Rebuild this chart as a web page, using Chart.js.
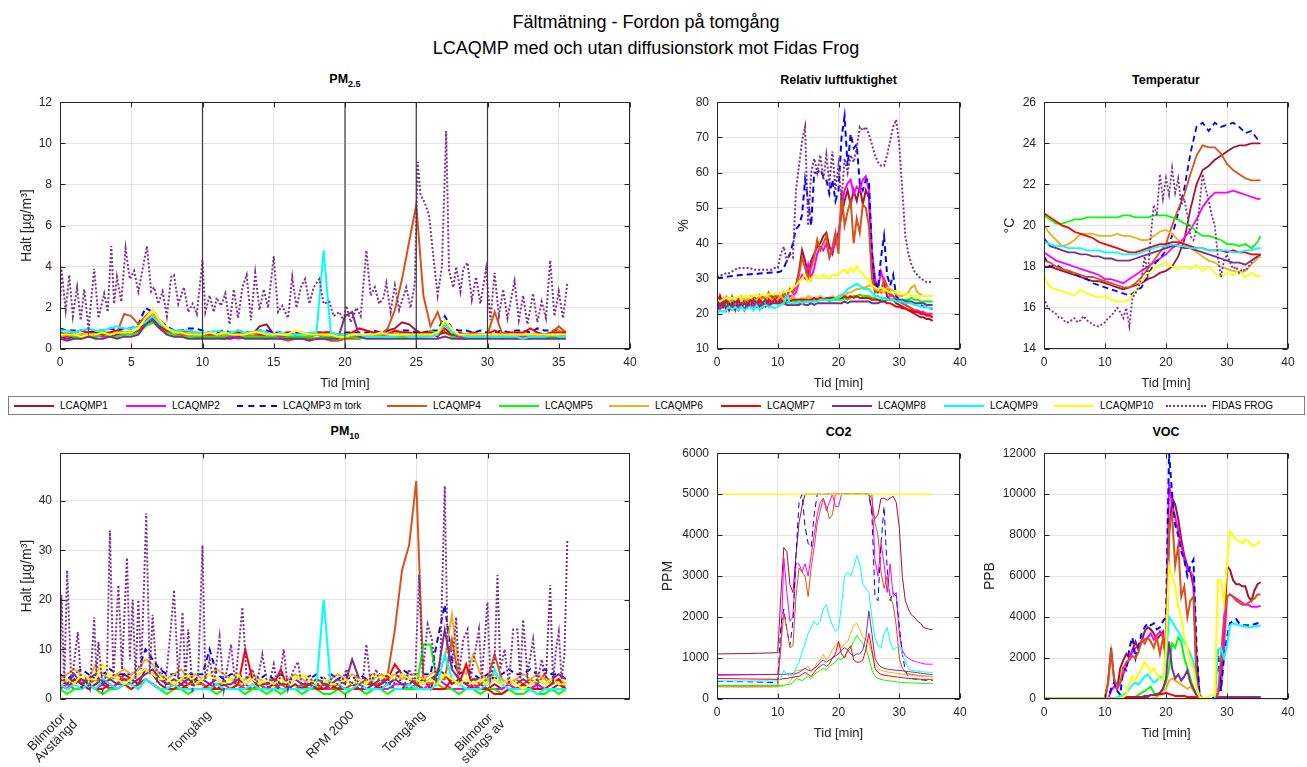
<!DOCTYPE html>
<html lang="sv">
<head>
<meta charset="UTF-8" />
<title>Fältmätning - Fordon på tomgång</title>
<script src="https://cdn.jsdelivr.net/npm/chart.js@4.4.1/dist/chart.umd.min.js"></script>
<style>
  body { margin: 0; background: #fff; font-family: "Liberation Sans", Arial, sans-serif; color: #000; }
  #page { position: relative; width: 1307px; height: 767px; overflow: hidden; }
  .main-title { position: absolute; left: 0; top: 9px; width: 1292px; text-align: center; font-size: 18px; line-height: 26px; color: #000; }
  .sub-title { position: absolute; font-weight: bold; font-size: 12.5px; line-height: 14px; text-align: center; color: #000; }
  .sub-title sub { font-size: 9px; vertical-align: -4px; line-height: 0; }
  canvas { position: absolute; }
  #legend { position: absolute; left: 8px; top: 396px; width: 1297px; height: 19px; border: 1px solid #7f7f7f; background: #fff;
            font-size: 10px; box-sizing: border-box; }
  #legend .item { position: absolute; top: 0; height: 17px; display: flex; align-items: center; white-space: nowrap; }
  #legend .sample { display: inline-block; width: 40px; height: 0; border-top-width: 2px; }
  #legend span { margin-left: 6px; color: #000; }
  .rot-label { position: absolute; font-size: 13px; line-height: 13px; text-align: center; white-space: nowrap; color: #262626;
               transform-origin: 100% 50%; transform: rotate(-45deg); }
</style>
</head>
<body>
<div id="page">
  <div class="main-title">Fältmätning - Fordon på tomgång<br />LCAQMP med och utan diffusionstork mot Fidas Frog</div>

  <div class="sub-title" style="left:60px; width:570px; top:72px;">PM<sub>2.5</sub></div>
  <div class="sub-title" style="left:717px; width:243px; top:73px;">Relativ luftfuktighet</div>
  <div class="sub-title" style="left:1044px; width:244px; top:73px;">Temperatur</div>
  <div class="sub-title" style="left:60px; width:570px; top:424px;">PM<sub>10</sub></div>
  <div class="sub-title" style="left:717px; width:243px; top:425px;">CO2</div>
  <div class="sub-title" style="left:1044px; width:244px; top:425px;">VOC</div>

  <canvas id="pm25"></canvas>
  <canvas id="rh"></canvas>
  <canvas id="temp"></canvas>
  <canvas id="pm10"></canvas>
  <canvas id="co2"></canvas>
  <canvas id="voc"></canvas>

  <div id="legend"></div>
</div>

<script>
// ---- time axes (minutes) ----
const tHalf = [0,0.5,1,1.5,2,2.5,3,3.5,4,4.5, 5,5.5,6,6.5,7,7.5,8,8.5,9,9.5,
  10,10.5,11,11.5,12,12.5,13,13.5,14,14.5, 15,15.5,16,16.5,17,17.5,18,18.5,19,19.5,
  20,20.5,21,21.5,22,22.5,23,23.5,24,24.5, 25,25.5,26,26.5,27,27.5,28,28.5,29,29.5,
  30,30.5,31,31.5,32,32.5,33,33.5,34,34.5,35,35.5];
const tMin = [0,1,2,3,4,5,6,7,8,9,10,11,12,13,14,15,16,17,18,19,20,21,22,23,24,25,26,27,28,29,30,31,32,33,34,35,35.5];
const tGas = [0,5,10, 10.5,11,11.5,12,12.5,13,13.5,14,14.5,15, 15.5,16,16.5,17,17.5,18,18.5,19,19.5,20,
  20.5,21,21.5,22,22.5,23,23.5,24,24.5,25, 25.5,26,26.5,27,27.5,28,28.5,29,29.5,30,
  30.5,31,31.5,32,32.5,33,33.5,34,34.5,35,35.5];
const tEnds = [0, 35.5];
const eventMinutes = [10, 20, 25, 30];

const sensorNames = ['LCAQMP1','LCAQMP2','LCAQMP3 m tork','LCAQMP4','LCAQMP5','LCAQMP6','LCAQMP7','LCAQMP8','LCAQMP9','LCAQMP10','FIDAS FROG'];

// ---- tick values ----
const ticksX5 = [0,5,10,15,20,25,30,35,40];
const ticksX10 = [0,10,20,30,40];
const pm25YTicks = [0,2,4,6,8,10,12];
const rhYTicks = [10,20,30,40,50,60,70,80];
const tempYTicks = [14,16,18,20,22,24,26];
const pm10YTicks = [0,10,20,30,40];
const pm10XTicks = [0,10,20,25,30];
const pm10XLabels = [['Bilmotor','Avstängd'],'Tomgång','RPM 2000','Tomgång',['Bilmotor','stängs av']];
const co2YTicks = [0,1000,2000,3000,4000,5000,6000];
const vocYTicks = [0,2000,4000,6000,8000,10000,12000];

// ---- PM2.5 [µg/m3], sampled on tHalf ----
const pm25Sensor1 = [0.6,0.5,0.6,0.7,0.6,0.6,0.7,0.6,0.7,0.7, 0.8,0.9,1.3,1.6,1.2,0.9,0.8,0.7,0.7,0.6,
  0.6,0.6,0.6,0.5,0.6,0.6,0.6,0.7,1.1,1.2, 0.7,0.6,0.6,0.5,0.6,0.6,0.7,0.6,0.5,0.6,
  0.6,0.7,0.6,0.6,0.7,0.6,0.9,1.0,1.3,1.2, 0.9,0.7,0.8,0.6,1.0,0.7,0.6,0.6,0.6,0.7,
  0.6,0.6,0.6,0.6,0.5,0.6,0.6,0.6,0.6,0.6,0.6,0.6];
const pm25Sensor2 = [0.7,0.6,0.7,0.6,0.7,0.7,0.6,0.7,0.8,0.7, 0.8,0.9,1.4,1.7,1.3,0.9,0.8,0.7,0.7,0.6,
  0.6,0.6,0.7,0.6,0.6,0.5,0.6,0.6,0.6,0.5, 0.6,0.6,0.5,0.6,0.6,0.5,0.5,0.6,0.6,0.5,
  0.6,0.6,0.6,0.6,0.7,0.6,0.7,0.8,0.7,0.7, 0.6,0.6,0.7,0.7,1.2,0.8,0.6,0.6,0.6,0.6,
  0.7,0.6,0.6,0.6,0.6,0.6,0.7,0.6,0.6,0.6,0.6,0.7];
const pm25Sensor3 = [1.0,0.9,0.9,0.9,0.8,0.9,0.9,1.0,0.9,1.0, 1.0,1.2,2.0,1.8,1.4,1.1,0.9,0.9,1.0,1.0,
  0.9,0.8,0.8,0.9,0.8,0.9,0.8,0.8,0.9,0.9, 0.8,0.8,0.8,0.8,0.8,0.7,0.8,0.8,0.8,0.7,
  0.8,0.8,0.8,0.8,0.9,0.8,0.9,0.8,0.9,0.9, 0.8,0.8,0.9,0.9,1.6,1.0,0.9,0.9,0.8,0.9,
  0.8,0.8,0.9,0.8,0.9,0.9,0.8,1.0,0.9,0.9,0.9,0.8];
const pm25Sensor4 = [0.7,0.7,0.6,0.7,0.7,0.7,0.8,0.8,0.8,1.7, 1.6,1.2,1.6,1.9,1.4,1.0,0.8,0.7,0.7,0.7,
  0.6,0.6,0.6,0.6,0.7,0.6,0.6,0.6,0.7,0.6, 0.6,0.5,0.4,0.5,0.5,0.5,0.5,0.5,0.4,0.4,
  0.5,0.5,0.5,0.6,0.6,0.7,1.0,1.9,3.4,5.2, 7.0,2.6,1.1,1.8,0.8,0.7,0.7,0.7,0.6,0.6,
  0.7,1.8,0.8,0.7,0.7,0.7,0.6,0.6,0.7,0.8,1.1,0.8];
const pm25Sensor5 = [0.6,0.7,0.6,0.5,0.6,0.6,0.7,0.6,0.6,0.7, 0.7,0.8,1.1,1.3,1.0,0.8,0.7,0.6,0.6,0.6,
  0.6,0.6,0.6,0.6,0.7,0.6,0.6,0.6,0.6,0.6, 0.6,0.5,0.6,0.6,0.6,0.6,0.5,0.6,0.6,0.5,
  0.6,0.6,0.5,0.6,0.6,0.6,0.6,0.6,0.6,0.6, 0.7,0.6,0.9,0.7,0.8,0.6,0.5,0.5,0.6,0.6,
  0.6,0.6,0.5,0.6,0.6,0.5,0.5,0.6,0.6,0.6,0.6,0.6];
const pm25Sensor6 = [0.7,0.8,0.7,0.7,0.7,0.8,0.8,0.7,0.8,0.8, 0.8,1.0,1.5,1.7,1.3,1.0,0.8,0.8,0.8,0.7,
  0.7,0.7,0.7,0.7,0.8,0.7,0.7,0.7,0.8,0.7, 0.7,0.7,0.7,0.7,0.8,0.7,0.7,0.7,0.7,0.6,
  0.7,0.7,0.7,0.7,0.7,0.7,0.8,0.8,0.8,0.7, 0.7,0.7,0.7,0.8,1.2,0.8,0.7,0.7,0.7,0.7,
  0.7,0.7,0.7,0.7,0.8,0.7,0.7,0.8,0.7,0.7,0.9,0.7];
const pm25Sensor7 = [0.8,0.7,0.8,0.9,0.8,0.8,0.7,0.8,0.9,0.8, 0.8,0.9,1.3,1.5,1.1,0.9,0.8,0.8,0.9,0.8,
  0.7,0.7,0.7,0.8,0.7,0.8,0.7,0.8,0.7,0.7, 0.7,0.7,0.8,0.7,0.8,0.7,0.8,0.8,0.8,0.7,
  0.7,0.8,1.0,0.9,0.8,0.8,0.7,0.9,0.8,0.8, 0.7,0.8,0.8,0.7,0.8,0.7,0.8,0.7,0.8,0.7,
  0.7,0.9,0.7,0.8,0.8,0.8,1.0,0.8,0.7,0.8,0.8,0.8];
const pm25Sensor8 = [0.5,0.4,0.5,0.5,0.6,0.5,0.5,0.6,0.5,0.6, 0.6,0.7,1.2,1.4,1.0,0.7,0.6,0.6,0.5,0.5,
  0.5,0.5,0.5,0.5,0.5,0.6,0.5,0.5,0.5,0.5, 0.5,0.5,0.5,0.5,0.5,0.4,0.5,0.5,0.5,0.5,
  1.6,1.8,0.6,0.5,0.5,0.5,0.5,0.5,0.5,0.5, 0.5,0.5,0.5,0.5,0.6,0.5,0.5,0.5,0.5,0.5,
  0.5,0.5,0.5,0.5,0.5,0.5,0.5,0.5,0.5,0.5,0.5,0.5];
const pm25Sensor9 = [0.9,0.9,0.8,0.9,1.0,0.9,0.9,1.0,1.1,1.0, 1.0,1.1,1.3,1.6,1.2,1.0,0.9,0.9,0.9,0.8,
  0.8,0.8,0.9,0.8,0.8,0.9,0.8,0.8,0.9,0.8, 0.7,0.8,0.7,0.7,0.7,0.8,0.8,4.8,0.8,0.7,
  0.7,0.7,0.7,0.6,0.6,0.6,0.6,0.6,0.7,0.6, 0.6,0.6,0.6,0.7,1.3,0.8,0.7,0.6,0.6,0.6,
  0.6,0.6,0.6,0.6,0.6,0.5,0.6,0.6,0.6,0.7,0.6,0.6];
const pm25Sensor10 = [0.7,0.7,0.7,0.6,0.7,0.7,0.8,0.7,0.8,0.8, 0.8,1.0,1.5,1.9,1.4,1.0,0.8,0.8,0.7,0.7,
  0.7,0.8,0.7,0.8,0.7,0.7,0.7,0.8,0.8,0.7, 0.7,0.7,0.7,0.9,0.8,0.7,0.7,0.7,0.7,0.6,
  0.6,0.7,0.7,0.7,0.7,0.8,0.7,0.7,0.7,0.7, 0.7,0.7,0.7,0.8,1.4,1.0,0.7,0.7,0.7,0.7,
  0.7,0.7,0.7,0.7,0.7,0.7,0.7,0.7,0.7,0.7,0.7,0.7];
const pm25FidasT = [0,0.1,0.4,0.65,0.9,1.2,1.45,1.7,2.0,2.4,2.7,3.1,3.35,3.6,3.8,4.0,4.3,4.6,4.9,5.2,5.5,5.8,6.1,6.4,6.6,6.9,
  7.2,7.5,7.8,8.0,8.3,8.7,9.0,9.3,9.6,10.0,10.2,10.5,10.8,11.0,11.3,11.6,11.9,12.2,12.5,12.8,13.1,13.4,13.7,14.0,14.3,14.6,
  15.0,15.3,15.6,16.0,16.3,16.6,16.9,17.2,17.5,17.8,18.2,18.5,18.9,19.2,19.6,19.9,20.1,20.4,20.8,21.1,21.5,21.8,22.1,22.4,
  22.7,22.9,23.2,23.5,23.8,24.3,24.6,24.9,25.1,25.3,25.6,25.9,26.2,26.5,26.8,27.1,27.3,27.6,27.8,28.1,28.3,28.6,28.9,29.2,
  29.5,29.9,30.2,30.5,30.8,31.1,31.4,31.7,31.9,32.2,32.5,32.8,33.2,33.5,33.8,34.1,34.4,34.7,35.0,35.3,35.6];
const pm25Fidas = [2.0,3.9,1.9,3.6,1.6,3.0,1.4,2.9,1.0,3.9,1.5,2.7,1.8,5.0,2.2,3.5,2.3,4.9,3.4,3.8,2.8,3.9,5.0,2.8,3.0,2.2,
  2.8,1.6,3.5,3.6,2.2,3.0,1.8,2.2,1.7,4.3,1.8,2.6,1.8,2.5,2.1,2.7,1.2,2.9,1.5,3.0,3.6,1.4,3.7,1.9,2.9,2.0,
  4.5,1.8,2.1,1.5,3.5,2.0,3.0,3.4,2.2,3.0,3.4,2.2,2.3,1.6,1.8,1.4,2.1,1.3,2.0,1.6,4.8,2.6,3.0,2.2,
  2.5,3.2,1.8,3.1,1.9,3.0,2.0,3.2,9.1,7.5,7.1,6.5,4.5,2.6,4.0,10.6,3.8,3.0,4.0,2.8,3.9,4.2,2.4,3.5,
  2.2,3.9,1.4,3.7,1.6,2.9,1.5,2.6,3.3,1.4,2.6,1.2,2.7,1.3,2.3,1.5,4.3,1.6,2.8,1.5,3.2];

// ---- Relativ luftfuktighet [%], sampled on tHalf ----
const rhSensor1 = [21,23,22,24,21,23,22,23,22,24, 23,22,24,23,25,22,24,23,25,24,
  25,24,26,25,27,26,28,32,38,35, 31,35,37,39,40,42,43,39,37,41,
  43,48,52,55,51,55,52,56,51,55, 53,35,27,26,27,29,25,24,24,23,
  22.5,22,21.5,21,20.5,20,19.5,19,19,18.5,18.5,18];
const rhSensor2 = [22,21,23,22,24,22,23,21,22,23, 22,23,22,24,23,22,24,23,23,24,
  24,23,25,24,25,25,26,29,31,30, 34,30,33,37,39,38,40,36,38,40,
  42,50,55,57,58,54,56,55,58,59, 55,38,30,27,32,29,27,25,25,24,
  23.5,23,22.5,22,21.5,21,21,20.5,20.5,20,20,20];
const rhSensor3 = [30,30.2,30.3,30.5,30.6,30.7,30.8,30.9,31,31, 31.1,31.2,31.3,31.3,31.4,31.5,31.5,31.6,31.7,31.8,
  31.8,32,33,35,37,40,44,45,48,58, 52,45,60,60,61,59,58,54,58,52,
  55,70,76,62,71,67,68,57,55,58, 58,37,29,27,36,42,31,28,31,25,
  24,24,23.5,23.5,23,23,22.5,22.5,22,22,21.5,21.5];
const rhSensor4 = [24,25,23,24,22,25,23,24,22,23, 24,23,25,24,23,25,24,26,24,25,
  25,24,26,25,27,26,28,31,36,33, 30,33,36,41,38,40,42,36,39,43,
  37,55,45,49,52,40,47,43,51,50, 45,30,26,27,26,30,28,26,25,24,
  23.5,23,22.5,22,21.5,21,20.5,20,20,19.5,19.5,19];
const rhSensor5 = [22,23,22,23,22,24,23,22,23,23, 22,23,24,23,22,23,23,24,23,23,
  23,23,23.5,23,23.5,23.5,23.5,23,23.5,23.5, 23.5,23.5,24,23.5,24,24,24,23.5,24,24,
  24,24,24.5,24,24.5,25,25,25.5,25,25, 25,24.5,24.5,24,24,24.5,24,24,24,24,
  24,24,24,24,24.5,24,24,23.5,23.5,23.5,23.5,23.5];
const rhSensor6 = [25,24,23,25,24,22,24,23,25,24, 24,25,23,24,25,23,24,25,24,24,
  24,25,24,25,24,25,24,24,24.5,24, 25,24.5,24,24.5,25,24.5,24,24.5,25,24.5,
  25,25.5,25,26,26,26.5,27,27,27.5,27.5, 28,28,27,26.5,26.5,26,27.5,27,26.5,25.5,
  25,25,25.5,26,27.5,28,26,25.5,25,25,25,25];
const rhSensor7 = [21,25,22,24,22,23,21,24,22,23, 22,24,23,22,24,23,22,24,23,24,
  23,24,23,24,23.5,24,24,24,24,24, 24,24,24.5,24,24.5,24,24.5,24.5,24.5,24.5,
  24.5,24.5,25,24.5,25,24.5,25,24.5,24.5,24.5, 24.5,24,24,24,23.5,23.5,23,23,22.5,22,
  22,21.5,21.5,21,21,20.5,20.5,20,20,19.5,19.5,19];
const rhSensor8 = [25,22,24,21,23,22,24,22,23,21, 23,22,24,23,22,23,24,22,23,23,
  23,23,23,22.5,22.5,22.5,22.5,22.5,23,22.5, 22.5,23,22.5,23,23,23,23,23,23,23,
  23,23,23.5,23,23.5,23.5,23.5,23.5,23.5,23.5, 23.5,23,23,23,23.5,23.5,24,24,24,24,
  24,24,23.5,23.5,23.5,23,23,23,23,22.5,22.5,22.5];
const rhSensor9 = [20,21,20.5,21,22,21,22,21,22,21, 21.5,22,21,22.5,21,22,22.5,22,22,21.5,
  22,22.5,23,25,23,23,23,23.5,23,23.5, 23.5,23.5,23.5,23.5,24,24,24,24,24,24.5,
  24.5,25,26,27,27.5,28,28.5,28,27,27, 27,26,25,25,24.5,24.5,24,24,24,23.5,
  23.5,23.5,23,23,23,22.5,22.5,22,22,22,21.5,21.5];
const rhSensor10 = [24,23.5,24,24.5,24,24.5,24,25,24.5,25, 25,24.5,25,25.5,25,25.5,25,25.5,25.5,25.5,
  25.5,26,26,26.5,26.5,27.5,28,29,30,31, 29,30,31,30.5,30,31,30.5,30,31,31,
  31,32,32.5,31.5,33,32,33.5,32,31.5,30, 29.5,28,27.5,27,27.5,27,26.5,26,26,26.5,
  26,25.5,25.5,25.5,25,25,25,25,25,25,25,25];
const rhFidas = [30.5,31,31,31.5,31.5,32,32.5,33,33,33, 33,33,32.5,32.5,32.5,32.5,32.5,32.5,32.5,33,
  33,37,39,35,37,36,55,62,69,73, 45,60,64,60,65,58,65,57,66,55,
  62,52,64,60,65,63,67,73,72,73, 71,68,65,63,62,62,65,69,73,75,
  68,55,42,37,34,32,31,30,29.5,29,29,29];

// ---- Temperatur [°C], sensors on tMin, FIDAS on tHalf ----
const tempSensor1 = [18.0,18.0,17.9,17.8,17.7,17.6,17.5,17.4,17.3,17.3, 17.2,17.1,17.0,16.9,17.0,17.1,17.2,17.4,17.5,17.7,
  17.8,18.0,18.5,19.3,20.8,22.0,22.7,22.9,23.2,23.4, 23.6,23.8,23.9,23.9,24.0,24.0,24.0];
const tempSensor2 = [18.7,18.5,18.3,18.2,18.1,18.0,17.9,17.8,17.7,17.6, 17.4,17.4,17.3,17.2,17.4,17.6,17.8,18.0,18.2,18.4,
  18.6,18.9,19.1,19.4,19.8,20.3,20.9,21.3,21.6,21.6, 21.6,21.7,21.6,21.5,21.4,21.3,21.3];
const tempSensor3 = [18.5,18.0,18.1,17.9,17.8,17.7,17.5,17.4,17.2,17.1, 17.0,16.9,16.8,16.7,16.6,16.8,17.0,17.6,18.1,18.4,
  18.8,19.5,20.6,21.8,23.5,24.8,25.0,24.6,25.0,24.8, 24.9,25.0,24.8,24.5,24.6,24.2,24.2];
const tempSensor4 = [18.3,18.2,18.0,17.9,17.8,17.7,17.6,17.5,17.5,17.4, 17.3,17.2,17.1,17.0,17.0,17.2,17.5,17.9,18.3,18.7,
  19.1,20.0,20.8,21.5,22.5,23.4,23.9,23.8,23.8,23.5, 23.0,22.7,22.5,22.3,22.2,22.2,22.2];
const tempSensor5 = [20.5,20.3,20.1,20.1,20.2,20.3,20.3,20.4,20.4,20.4, 20.4,20.4,20.4,20.5,20.5,20.4,20.4,20.4,20.5,20.5,
  20.5,20.4,20.3,20.1,20.0,19.7,19.5,19.5,19.4,19.3, 19.1,19.1,19.0,19.1,18.9,19.2,19.5];
const tempSensor6 = [20.0,19.6,19.3,19.0,19.1,19.3,19.6,19.6,19.6,19.5, 19.5,19.5,19.6,19.5,19.5,19.4,19.3,19.3,19.5,19.7,
  19.8,19.6,19.3,19.1,18.9,18.7,18.5,18.3,18.2,18.0, 17.9,17.8,17.7,17.8,18.1,18.4,18.5];
const tempSensor7 = [20.6,20.4,20.2,20.0,19.9,19.7,19.6,19.5,19.4,19.2, 19.1,19.0,18.9,18.8,18.7,18.7,18.8,18.9,19.0,19.1,
  19.1,19.2,19.2,19.1,19.0,18.9,18.9,18.8,18.8,18.8, 18.7,18.8,18.7,18.7,18.6,18.6,18.6];
const tempSensor8 = [19.4,19.0,18.9,18.8,18.7,18.7,18.6,18.6,18.5,18.5, 18.4,18.4,18.3,18.3,18.3,18.4,18.5,18.6,18.7,18.8,
  18.9,19.0,19.0,18.9,18.9,18.8,18.7,18.6,18.5,18.4, 18.3,18.2,18.2,18.1,18.3,18.5,18.6];
const tempSensor9 = [19.2,19.1,19.0,19.0,18.9,18.9,18.9,18.8,18.8,18.8, 18.7,18.7,18.7,18.6,18.6,18.6,18.7,18.8,18.9,19.0,
  19.0,19.1,19.0,19.0,18.9,18.9,18.9,18.8,18.8,18.8, 18.8,18.7,18.7,18.8,18.8,18.9,18.9];
const tempSensor10 = [17.5,17.0,16.9,16.8,16.7,16.6,16.9,16.7,16.6,16.5, 16.6,16.4,16.3,16.3,16.4,16.8,17.3,17.6,17.9,18.1,
  18.2,18.0,17.9,18.0,17.9,18.1,17.8,18.0,17.7,17.5, 17.7,17.6,17.8,17.5,17.7,17.5,17.6];
const tempFidas = [16.5,16.1,15.9,15.8,15.7,15.5,15.5,15.3,15.3,15.4, 15.5,15.3,15.4,15.6,15.4,15.3,15.2,15.1,15.1,15.2,
  15.3,15.5,15.6,15.8,16.0,15.8,15.5,16.0,15.1,16.5, 16.7,17.0,17.5,18.5,17.6,19.5,21.0,20.5,22.5,21.3,
  22.3,21.5,22.8,21.6,22.3,21.0,21.3,20.5,19.5,19.3, 19.8,21.0,22.5,21.8,21.2,20.5,20.0,18.5,17.5,18.3,
  18.6,18.2,17.9,18.0,17.7,17.9,17.8,18.0,18.2,18.4,18.5,18.6];

// ---- PM10 [µg/m3], sampled on tHalf ----
const pm10Sensor1 = [3,2,4,3,2,3,4,2,3,5, 4,3,6,5,3,2,3,2,3,4, 3,2,2,3,2,3,2,2,3,2, 3,2,2,3,2,2,3,2,2,3,
  2,3,2,2,3,2,3,4,5,4, 3,4,2,6,5,3,4,3,2,3, 2,3,2,3,2,3,2,3,2,2,3,2];
const pm10Sensor2 = [2,3,2,2,3,2,3,2,3,3, 3,2,4,3,2,2,2,3,2,2, 2,2,3,2,2,2,3,2,2,2, 2,2,2,2,2,3,2,2,2,2,
  2,2,3,2,2,2,2,3,3,2, 3,2,3,4,3,2,2,2,3,2, 2,2,2,3,2,2,2,3,2,2,2,2];
const pm10Sensor3 = [5,4,5,6,5,4,5,6,5,5, 5,6,10,8,6,5,5,4,5,5, 5,10,5,4,5,5,4,5,4,5, 4,5,4,4,5,4,5,4,5,4,
  5,4,5,4,5,5,4,5,6,5, 5,5,5,12,19,8,5,6,5,4, 5,4,5,6,5,5,6,5,6,5,5,4];
const pm10Sensor4 = [3,4,3,4,3,4,3,4,5,4, 4,5,6,5,4,3,3,4,3,3, 3,2,3,3,2,3,2,2,3,2, 2,3,2,2,3,2,2,3,2,2,
  2,3,3,4,3,3,5,14,26,31, 44,4,3,4,4,12,4,3,4,3, 4,9,4,3,4,3,4,3,5,3,4,3];
const pm10Sensor5 = [2,1,2,2,3,2,1,2,2,3, 2,3,4,3,2,1,2,2,1,2, 2,2,1,2,2,2,1,2,2,1, 2,1,2,2,1,2,2,1,1,2,
  1,2,2,1,2,2,1,2,2,2, 2,11,11,3,2,2,1,2,2,1, 2,2,1,2,1,1,2,1,1,2,1,2];
const pm10Sensor6 = [4,5,6,5,4,7,5,4,5,6, 5,6,8,7,5,4,5,6,4,5, 4,5,6,5,4,3,4,5,4,3, 4,3,4,5,4,3,4,3,4,5,
  4,5,4,3,4,5,4,5,4,5, 5,4,5,6,8,17,6,5,9,5, 4,5,4,3,4,5,4,5,4,3,4,3];
const pm10Sensor7 = [3,2,3,4,3,2,2,3,2,3, 2,3,4,3,2,2,2,3,2,2, 2,3,2,2,2,3,10,4,2,2, 3,6,2,2,2,3,2,2,3,2,
  2,2,2,2,2,3,4,7,5,4, 3,2,2,2,2,4,3,7,2,2, 2,1,1,2,2,3,2,2,2,3,4,2];
const pm10Sensor8 = [4,3,5,3,4,5,3,4,3,4, 3,4,5,6,4,3,4,3,4,3, 4,3,4,3,3,4,3,4,3,3, 4,3,3,4,3,3,4,3,3,4,
  3,8,4,3,3,4,3,4,3,3, 4,3,4,5,14,6,4,3,4,4, 3,4,3,4,3,4,3,4,3,4,5,4];
const pm10Sensor9 = [3,2,3,2,3,2,4,3,2,3, 3,2,4,3,2,2,3,2,2,2, 2,2,3,2,2,2,2,3,2,2, 2,2,2,2,2,2,3,20,3,3,
  2,2,3,2,2,2,3,2,2,3, 2,2,2,3,9,4,3,2,2,2, 3,6,3,2,2,2,2,1,2,2,2,2];
const pm10Sensor10 = [3,4,3,5,4,4,7,5,4,3, 4,5,6,5,4,4,3,4,5,3, 4,5,4,3,4,5,3,4,3,4, 3,4,3,4,5,4,3,4,3,3,
  4,3,4,3,5,4,5,4,5,4, 4,3,4,3,5,4,3,4,3,4, 3,4,3,4,3,2,3,4,3,4,3,3];
const pm10FidasT = [0,0.1,0.3,0.5,0.8,1.25,1.5,1.8,2.1,2.4,2.55,2.7,3.0,3.3,3.5,3.75,4.1,4.35,4.7,4.9,5.1,5.3,5.5,5.7,5.9,
  6.05,6.3,6.5,6.8,7.1,7.4,7.8,8.0,8.3,8.6,8.8,9.0,9.3,9.7,10.0,10.2,10.5,10.8,11.2,11.5,12.0,12.3,12.8,13.1,13.5,
  13.8,14.2,14.6,15.0,15.3,15.7,16.0,16.4,16.7,17.0,17.5,17.9,18.3,18.7,19.2,19.6,20.1,20.4,20.8,21.2,21.5,21.8,22.2,22.5,22.9,
  23.3,23.7,24.1,24.5,24.9,25.2,25.45,25.8,26.1,26.4,26.7,27.0,27.2,27.5,27.8,28.0,28.3,28.6,28.8,29.1,29.4,29.6,30.0,30.2,30.5,
  30.7,30.9,31.2,31.5,31.8,32.1,32.3,32.5,32.8,33.2,33.5,33.8,34.1,34.4,34.6,34.8,35.0,35.2,35.4,35.6];
const pm10Fidas = [4,21,3,26,3,13.5,2,4,2,16.5,5,11.5,2,6,34,4,23,6,28.5,8,20,4,20,6,23.5,
  37.5,5,17,4,6,3,15,22,4,17.5,3,14,2,5,31,4,8,3,12.5,2,11,3,18.5,4,6,
  3,9,2,7,2,10,2,6,7.5,2,5,2,4,2,5,2,6,3,4,2,11,3,6,2,5,
  2,5,2,6,3,25,5,15,12,4,8,43,10,6,16.5,5,12,14,4,9,14,4,19.5,4,8,
  25,6,10,3,14,14,4,16,5,12,3,8,4,23,3,10,13.5,4,9,32];

// ---- CO2 [PPM], sampled on tGas ----
const co2Sensor1 = [1100,1110,1130, 2500,3700,3600,2800,2600,3500,4300,4700,5000,5000,
  5000,5000,5000,5000,5000,5000,5000,5000,5000,5000, 5000,5000,5000,5000,5000,5000,5000,5000,5000,5000,
  4600,4400,4500,4900,4900,4850,4900,4950,4800,4200, 3000,2400,2200,2050,2000,1900,1850,1750,1720,1700,1700];
const co2Sensor2 = [600,600,600, 1200,3450,2600,1900,2000,3300,3300,3100,3300,3000,
  3500,4000,4500,4800,4900,4600,4800,5000,4700,4700, 5000,5000,5000,5000,5000,5000,5000,5000,5000,5000,
  5000,3400,3000,3800,3300,2600,3300,2500,2600,1600, 1200,1050,1000,950,920,900,880,860,850,850,850];
const co2Sensor3 = [430,420,400, 1800,2200,1700,1300,1900,3500,4800,5000,4200,3800,
  3700,4500,5000,5000,5000,5000,5000,5000,5000,5000, 5000,5000,5000,5000,5000,5000,5000,5000,5000,5000,
  4500,2500,2400,3800,4700,3200,2400,2600,2500,1800, 1100,700,550,500,490,480,470,460,455,450,450];
const co2Sensor4 = [300,300,300, 1300,2100,1700,1250,1300,2500,3200,3100,3000,2500,
  3200,3700,4300,4600,4900,4700,4400,4500,5000,5000, 5000,5000,5000,5000,5000,5000,5000,5000,5000,5000,
  4900,4300,4000,3100,2700,3000,2500,2300,1800,1000, 750,650,620,600,590,580,570,560,555,550,550];
const co2Sensor5 = [330,330,330, 330,340,350,360,400,500,480,450,500,550,
  500,600,650,700,750,700,800,850,900,1000, 950,1050,1150,1250,1400,1550,1450,1350,1250,1000,
  700,550,500,480,460,450,440,430,420,410, 400,400,395,390,390,385,385,380,380,380,380];
const co2Sensor6 = [300,290,300, 300,320,350,420,550,700,700,720,750,800,
  650,750,900,950,1100,950,1050,1200,1300,1400, 1250,1350,1400,1600,1800,1850,1700,1500,1450,1400,
  1100,850,750,700,680,660,650,640,630,620, 600,600,590,580,570,560,560,550,550,550,550];
const co2Sensor7 = [500,490,480, 480,500,500,520,520,550,550,600,650,600,
  550,650,750,800,850,800,850,1000,1100,1400, 1100,1000,1200,1300,950,900,900,950,1200,1600,
  1200,750,650,600,580,570,560,550,540,530, 520,510,500,500,490,490,480,480,480,480,480];
const co2Sensor8 = [580,590,600, 600,600,610,610,620,620,650,700,750,700,
  700,750,800,900,950,900,950,1000,1050,1100, 1200,1250,1200,1100,1050,1100,1100,1200,1500,2150,
  1600,1000,850,780,750,730,720,710,700,700, 690,680,670,660,650,640,630,620,610,600,600];
const co2Sensor9 = [440,440,440, 500,700,600,550,600,750,900,1150,1350,1600,
  1750,1900,1800,1900,2200,2300,2000,1800,1650,1700, 2300,3000,3100,3000,3200,3500,3300,2800,2700,2600,
  2000,1500,1300,1250,1600,1750,1400,1200,1250,1300, 1100,900,750,700,690,680,670,660,655,650,650];
const co2Sensor10 = [5000, 5000];

// ---- VOC [PPB], sampled on tGas ----
const vocSensor1 = [30,30,30, 800,2500,900,500,1500,1900,2200,2000,2400,2800,
  2400,2800,3300,3500,3400,3200,2900,3100,3300,1800, 8000,9800,9500,8800,7800,7000,6500,6200,5500,2000,
  200,0,0,0,0,50,300,1000,3000,6500, 6300,5800,5600,5600,5500,5500,5000,4800,5300,5600,5700];
const vocSensor2 = [30,30,30, 0,400,600,500,800,1200,1600,2000,2300,2500,
  2600,2800,2900,3000,3200,2900,3100,3300,3000,2800, 10500,9500,8900,8200,7500,6800,6300,6200,6000,1000,
  100,0,0,0,0,0,300,500,2500,5000, 5100,5000,4900,4800,4700,4600,4600,4500,4500,4500,4550];
const vocSensor3 = [30,30,30, 0,500,800,400,200,1500,1400,2500,3000,2000,
  2600,3200,3500,3700,3600,3700,3400,3500,3800,4000, 12000,10000,8500,8000,7200,6800,6000,6500,6800,2500,
  200,0,0,0,0,100,2400,400,2000,3000, 3700,3800,3900,3700,3600,3600,3600,3600,3650,3700,3750];
const vocSensor4 = [30,30,30, 800,2300,1000,600,800,1500,1800,1900,2100,2000,
  2300,2900,2700,3000,2800,2500,3000,2200,3000,2000, 8500,9000,6500,7500,5000,5500,4000,4800,5000,800,
  100,0,0,0,0,0,200,2000,4000,5000, 5100,5000,4800,4700,4600,4600,4700,4800,4900,5100,5100];
const vocSensor5 = [30,30,30, 30,30,30,30,30,30,30,30,50,100,
  200,300,400,500,600,300,200,300,500,800, 1500,2700,2500,3000,2800,2000,1500,1000,500,200,
  100,0,0,0,0,0,50,80,80,80, 80,80,80,80,80,80,80,80,80,80,80];
const vocSensor6 = [30,30,30, 30,30,30,30,30,30,30,30,30,30,
  30,30,30,30,30,50,100,200,400,500, 900,1000,900,800,700,600,500,600,400,200,
  100,0,0,0,0,0,50,80,80,80, 80,80,80,80,80,80,80,80,80,80,80];
const vocSensor7 = [30,30,30, 30,30,50,50,80,80,100,100,100,100,
  100,100,150,150,200,200,200,250,250,300, 250,200,150,150,150,150,100,100,100,80,
  50,0,0,0,0,0,80,80,80,80, 80,80,80,80,80,80,80,80,80,80,80];
const vocSensor8 = [30,30,30, 30,30,30,30,30,30,30,30,30,30,
  30,50,80,100,200,200,250,300,500,1000, 2800,1500,1000,1200,900,1100,1400,800,500,200,
  100,50,0,0,0,0,80,80,80,80, 80,80,80,80,80,80,80,80,80,80,80];
const vocSensor9 = [30,30,30, 30,30,30,100,150,200,300,500,700,800,
  700,900,1100,1200,1000,800,900,1100,1000,2000, 4000,3800,3500,3300,3000,2800,2500,2200,1800,600,
  100,0,0,0,0,0,2400,2500,2000,2600, 3600,3700,3650,3600,3550,3550,3500,3500,3550,3550,3600];
const vocSensor10 = [30,30,30, 30,30,30,30,50,100,200,800,1100,900,
  1200,1500,1800,1600,1300,1500,1200,1000,900,2500, 6500,6000,5500,4500,4000,3000,2500,1800,1500,500,
  100,50,50,100,200,200,5800,5800,4700,6500, 8200,8000,7800,7700,7600,7800,7700,7500,7500,7600,7700];

// ---- styling ----
const sensorColors = ['#A2142F','#FF00FF','#0000FF','#D95319','#00FF00','#EDB120','#FF0000','#7E2F8E','#00FFFF','#FFFF00','#7E2F8E'];
const legendLeft = [5, 117, 228, 378, 490, 600, 712, 823, 935, 1045, 1157];   // px inside the legend box
const FONT = '"Liberation Sans", Arial, sans-serif';
const AXIS_COLOR = '#262626';
Chart.defaults.font.family = FONT;
Chart.defaults.color = AXIS_COLOR;

function pts(t, v) {
  const n = Math.min(t.length, v.length);
  const out = [];
  for (let i = 0; i < n; i++) out.push({ x: t[i], y: v[i] });
  return out;
}

function series(idx, t, v, width) {
  let dash = [];
  if (idx === 2) dash = [6, 4];
  if (idx === 10) dash = [2, 2];
  return {
    label: sensorNames[idx], data: pts(t, v),
    borderColor: sensorColors[idx], backgroundColor: sensorColors[idx],
    borderWidth: width, borderDash: dash, pointRadius: 0, tension: 0,
    order: -idx, fill: false
  };
}

// box around the axes with inward tick marks
const boxPlugin = {
  id: 'axesBox',
  afterDatasetsDraw(chart) {
    const { ctx, chartArea: a, scales } = chart;
    ctx.save();
    ctx.strokeStyle = AXIS_COLOR;
    ctx.lineWidth = 1;
    ctx.setLineDash([]);
    const l = Math.round(a.left) + 0.5, r = Math.round(a.right) - 0.5;
    const t = Math.round(a.top) + 0.5, b = Math.round(a.bottom) - 0.5;
    ctx.strokeRect(l, t, r - l, b - t);
    ctx.beginPath();
    scales.x.ticks.forEach(tk => {
      const px = Math.round(scales.x.getPixelForValue(tk.value)) + 0.5;
      ctx.moveTo(px, b); ctx.lineTo(px, b - 5);
      ctx.moveTo(px, t); ctx.lineTo(px, t + 5);
    });
    scales.y.ticks.forEach(tk => {
      const py = Math.round(scales.y.getPixelForValue(tk.value)) + 0.5;
      ctx.moveTo(l, py); ctx.lineTo(l + 5, py);
      ctx.moveTo(r, py); ctx.lineTo(r - 5, py);
    });
    ctx.stroke();
    ctx.restore();
  }
};

const PAD_TOP = 10, PAD_RIGHT = 14;

function makeChart(id, area, cfg) {
  const cv = document.getElementById(id);
  const left = area.left - cfg.yW;
  const top = area.top - PAD_TOP;
  const w = area.right + PAD_RIGHT - left;
  const h = area.bottom + cfg.xH - top;
  Object.assign(cv.style, { left: left + 'px', top: top + 'px', width: w + 'px', height: h + 'px' });
  cv.width = w; cv.height = h;

  const chart = new Chart(cv, {
    type: 'line',
    data: { datasets: cfg.datasets },
    options: {
      responsive: false, animation: false, events: [],
      layout: { padding: { top: PAD_TOP, right: PAD_RIGHT, left: 0, bottom: 0 } },
      plugins: { legend: { display: false }, tooltip: { enabled: false } },
      scales: {
        x: {
          type: 'linear', min: cfg.xMin, max: cfg.xMax,
          afterBuildTicks: s => { s.ticks = cfg.xTicks.map(v => ({ value: v })); },
          afterFit: s => { s.height = cfg.xH; },
          border: { display: false },
          grid: { color: '#e3e3e3', lineWidth: 1, drawTicks: false },
          ticks: {
            display: !cfg.hideXLabels, autoSkip: false, padding: 6, font: { size: 12 }, color: AXIS_COLOR,
            maxRotation: 0, callback: v => String(v)
          },
          title: { display: !!cfg.xTitle, text: cfg.xTitle, font: { size: 13 }, color: AXIS_COLOR, padding: 0 }
        },
        y: {
          type: 'linear', min: cfg.yMin, max: cfg.yMax,
          afterBuildTicks: s => { s.ticks = cfg.yTicks.map(v => ({ value: v })); },
          afterFit: s => { s.width = cfg.yW; },
          border: { display: false },
          grid: { color: '#e3e3e3', lineWidth: 1, drawTicks: false },
          ticks: { padding: 8, font: { size: 12 }, color: AXIS_COLOR, callback: v => String(v) },
          title: { display: true, text: cfg.yTitle, font: { size: 14 }, color: AXIS_COLOR, padding: 0 }
        }
      }
    },
    plugins: [boxPlugin]
  });
  chart.$left = left;
  chart.$top = top;
  return chart;
}

// plot rectangles
const rowTop = { top: 97, bottom: 349 };
const rowBottom = { top: 448, bottom: 699 };
const colWide = { left: 60, right: 630 };
const colMid = { left: 717, right: 960 };
const colRight = { left: 1044, right: 1288 };

// PM2.5
const pm25Sets = [pm25Sensor1,pm25Sensor2,pm25Sensor3,pm25Sensor4,pm25Sensor5,pm25Sensor6,pm25Sensor7,pm25Sensor8,pm25Sensor9,pm25Sensor10]
  .map((v, i) => series(i, tHalf, v, 2));
pm25Sets.push(series(10, pm25FidasT, pm25Fidas, 2));
eventMinutes.forEach(m => pm25Sets.push({
  data: [{ x: m, y: pm25YTicks[0] }, { x: m, y: pm25YTicks[pm25YTicks.length - 1] }],
  borderColor: '#3a3a3a', borderWidth: 1.2, pointRadius: 0, order: -20
}));
makeChart('pm25', { ...colWide, ...rowTop }, {
  datasets: pm25Sets, xMin: 0, xMax: 40, xTicks: ticksX5, yMin: 0, yMax: 12, yTicks: pm25YTicks,
  yW: 41, xH: 42, xTitle: 'Tid [min]', yTitle: 'Halt [µg/m³]'
});

// Relativ luftfuktighet
const rhSets = [rhSensor1,rhSensor2,rhSensor3,rhSensor4,rhSensor5,rhSensor6,rhSensor7,rhSensor8,rhSensor9,rhSensor10]
  .map((v, i) => series(i, tHalf, v, 2));
rhSets.push(series(10, tHalf, rhFidas, 2));
makeChart('rh', { ...colMid, ...rowTop }, {
  datasets: rhSets, xMin: 0, xMax: 40, xTicks: ticksX10, yMin: 10, yMax: 80, yTicks: rhYTicks,
  yW: 41, xH: 42, xTitle: 'Tid [min]', yTitle: '%'
});

// Temperatur
const tempSets = [tempSensor1,tempSensor2,tempSensor3,tempSensor4,tempSensor5,tempSensor6,tempSensor7,tempSensor8,tempSensor9,tempSensor10]
  .map((v, i) => series(i, tMin, v, 1.8));
tempSets.push(series(10, tHalf, tempFidas, 1.8));
makeChart('temp', { ...colRight, ...rowTop }, {
  datasets: tempSets, xMin: 0, xMax: 40, xTicks: ticksX10, yMin: 14, yMax: 26, yTicks: tempYTicks,
  yW: 42, xH: 42, xTitle: 'Tid [min]', yTitle: '°C'
});

// PM10 – the time axis carries event names instead of minutes
const pm10Sets = [pm10Sensor1,pm10Sensor2,pm10Sensor3,pm10Sensor4,pm10Sensor5,pm10Sensor6,pm10Sensor7,pm10Sensor8,pm10Sensor9,pm10Sensor10]
  .map((v, i) => series(i, tHalf, v, 2));
pm10Sets.push(series(10, pm10FidasT, pm10Fidas, 2));
const pm10Chart = makeChart('pm10', { ...colWide, ...rowBottom }, {
  datasets: pm10Sets, xMin: 0, xMax: 40, xTicks: pm10XTicks, yMin: 0, yMax: 49.6, yTicks: pm10YTicks,
  yW: 41, xH: 60, xTitle: '', yTitle: 'Halt [µg/m³]', hideXLabels: true
});
const page = document.getElementById('page');
const pm10X = pm10Chart.scales.x;
pm10XTicks.forEach((v, i) => {
  const lines = [].concat(pm10XLabels[i]);
  const el = document.createElement('div');
  el.className = 'rot-label';
  lines.forEach(txt => {
    const ln = document.createElement('div');
    ln.textContent = txt;
    el.append(ln);
  });
  // right end of the rotated label sits just below its tick
  const ax = pm10Chart.$left + pm10X.getPixelForValue(v) + 6 + 4 * (lines.length - 1);
  const ay = pm10Chart.$top + pm10X.top + 13 + 5 * (lines.length - 1);
  el.style.right = (1307 - ax) + 'px';
  el.style.top = (ay - 6.5 * lines.length) + 'px';
  page.append(el);
});

// CO2
const co2Sets = [co2Sensor1,co2Sensor2,co2Sensor3,co2Sensor4,co2Sensor5,co2Sensor6,co2Sensor7,co2Sensor8,co2Sensor9]
  .map((v, i) => series(i, tGas, v, 1));
co2Sets.push(series(9, tEnds, co2Sensor10, 1.2));
makeChart('co2', { ...colMid, ...rowBottom }, {
  datasets: co2Sets, xMin: 0, xMax: 40, xTicks: ticksX10, yMin: 0, yMax: 6000, yTicks: co2YTicks,
  yW: 57, xH: 42, xTitle: 'Tid [min]', yTitle: 'PPM'
});

// VOC
const vocSets = [vocSensor1,vocSensor2,vocSensor3,vocSensor4,vocSensor5,vocSensor6,vocSensor7,vocSensor8,vocSensor9,vocSensor10]
  .map((v, i) => series(i, tGas, v, 2));
makeChart('voc', { ...colRight, ...rowBottom }, {
  datasets: vocSets, xMin: 0, xMax: 40, xTicks: ticksX10, yMin: 0, yMax: 12000, yTicks: vocYTicks,
  yW: 62, xH: 42, xTitle: 'Tid [min]', yTitle: 'PPB'
});

// shared legend row
const legendBox = document.getElementById('legend');
sensorNames.forEach((name, i) => {
  const item = document.createElement('div');
  item.className = 'item';
  item.style.left = legendLeft[i] + 'px';
  const sample = document.createElement('i');
  sample.className = 'sample';
  sample.style.borderTopStyle = i === 2 ? 'dashed' : (i === 10 ? 'dotted' : 'solid');
  sample.style.borderTopColor = sensorColors[i];
  const label = document.createElement('span');
  label.textContent = name;
  item.append(sample, label);
  legendBox.append(item);
});
</script>
</body>
</html>
